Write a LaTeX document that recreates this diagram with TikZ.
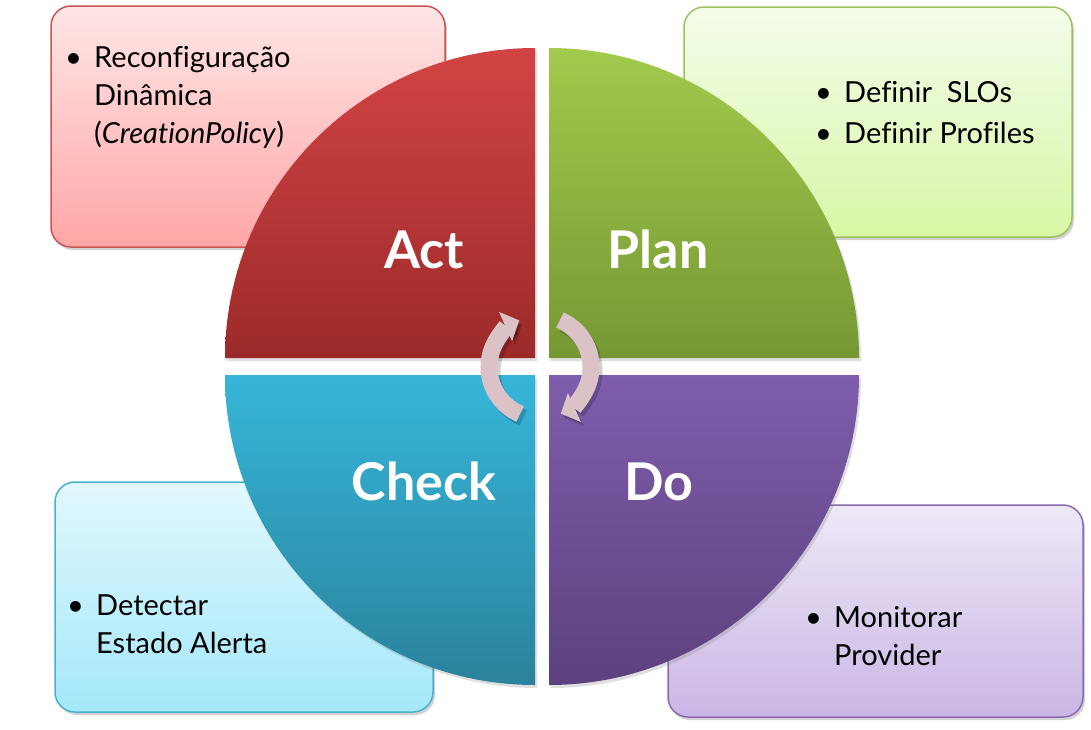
\documentclass[tikz,border=0pt]{standalone}
\usepackage{fontspec}
\setmainfont[Ligatures=NoCommon]{Lato}
\usetikzlibrary{shadows,arrows.meta}
\definecolor{actTop}{HTML}{D24444}
\definecolor{actBot}{HTML}{9C2A2A}
\definecolor{planTop}{HTML}{A2CA4C}
\definecolor{planBot}{HTML}{769834}
\definecolor{checkTop}{HTML}{36B6DA}
\definecolor{checkBot}{HTML}{2B829C}
\definecolor{doTop}{HTML}{7E5DAC}
\definecolor{doBot}{HTML}{5D417E}
\definecolor{actBoxTop}{HTML}{FFE6E6}
\definecolor{actBoxBot}{HTML}{FFA6A6}
\definecolor{actBoxLine}{HTML}{C85555}
\definecolor{planBoxTop}{HTML}{F3FCEA}
\definecolor{planBoxBot}{HTML}{D9F7A6}
\definecolor{planBoxLine}{HTML}{9CC262}
\definecolor{checkBoxTop}{HTML}{E2F8FE}
\definecolor{checkBoxBot}{HTML}{A4E8FA}
\definecolor{checkBoxLine}{HTML}{4BB0CC}
\definecolor{doBoxTop}{HTML}{EFE8F7}
\definecolor{doBoxBot}{HTML}{CAB6E5}
\definecolor{doBoxLine}{HTML}{8B6BAF}
\definecolor{arrowFill}{HTML}{DBC2C7}
\tikzset{
  infobox/.style={rounded corners=20pt, line width=1.5pt,
    drop shadow={shadow xshift=2pt,shadow yshift=-3pt,opacity=0.35}},
  quad/.style={drop shadow={shadow xshift=2pt,shadow yshift=-3pt,opacity=0.25}},
  quadlabel/.style={anchor=base, text=white, font=\fontsize{52}{60}\selectfont\bfseries, inner sep=0pt},
  bullets/.style={anchor=base west, inner sep=0pt, font=\fontsize{29}{38}\selectfont},
  cyclearrow/.style={line width=17pt, draw=arrowFill, -{Triangle[width=31pt,length=15pt]}},
  cycleshadow/.style={line width=17pt, draw=black, opacity=0.18, -{Triangle[width=31pt,length=15pt]}}
}
\begin{document}
\begin{tikzpicture}[x=1pt,y=-1pt]
\useasboundingbox[fill=white] (0,0) rectangle (1091,729);
% info boxes
\path[infobox, draw=actBoxLine, top color=actBoxTop, bottom color=actBoxBot] (51,6) rectangle (445,247);
\path[infobox, draw=planBoxLine, top color=planBoxTop, bottom color=planBoxBot] (684,7) rectangle (1072,237);
\path[infobox, draw=checkBoxLine, top color=checkBoxTop, bottom color=checkBoxBot] (55,482) rectangle (433,712);
\path[infobox, draw=doBoxLine, top color=doBoxTop, bottom color=doBoxBot] (668,505) rectangle (1083,717);
% quadrants
\path[quad, top color=actTop, bottom color=actBot] (535,358) -- (225,358) arc[start angle=180,end angle=270,radius=310] -- cycle;
\path[quad, top color=planTop, bottom color=planBot] (549,358) -- (549,48) arc[start angle=270,end angle=360,radius=310] -- cycle;
\path[quad, top color=doTop, bottom color=doBot] (549,375) -- (859,375) arc[start angle=0,end angle=90,radius=310] -- cycle;
\path[quad, top color=checkTop, bottom color=checkBot] (535,375) -- (535,685) arc[start angle=90,end angle=180,radius=310] -- cycle;
% cycle arrows
\coordinate (cc) at (540,367);
\coordinate (cs) at (543,371);
\draw[cycleshadow] (cs) ++(113:51) arc[start angle=113,end angle=246,radius=51];
\draw[cycleshadow] (cs) ++(-67:51) arc[start angle=-67,end angle=66,radius=51];
\draw[cyclearrow] (cc) ++(113:51) arc[start angle=113,end angle=246,radius=51];
\draw[cyclearrow] (cc) ++(-67:51) arc[start angle=-67,end angle=66,radius=51];
% quadrant labels
\node[quadlabel] (act) at (424,268) {Act};
\node[quadlabel] (plan) at (658,268) {Plan};
\node[quadlabel] (check) at (424,500) {Check};
\node[quadlabel] (do) at (659,500) {Do};
% box texts
\node[bullets] (acttext) at (65,67) {\begin{tabular}[t]{@{}l@{\hspace{0.42em}}l@{}}\textbullet & Reconfiguração\\ & Dinâmica\\ & (\textit{CreationPolicy})\end{tabular}};
\node[bullets] (plantext) at (815,102) {\begin{tabular}[t]{@{}l@{\hspace{0.42em}}l@{}}\textbullet & Definir\ \ SLOs\\[3pt] \textbullet & Definir Profiles\end{tabular}};
\node[bullets] (checktext) at (67,615) {\begin{tabular}[t]{@{}l@{\hspace{0.42em}}l@{}}\textbullet & Detectar\\ & Estado Alerta\end{tabular}};
\node[bullets] (dotext) at (805,627) {\begin{tabular}[t]{@{}l@{\hspace{0.42em}}l@{}}\textbullet & Monitorar\\ & Provider\end{tabular}};
\end{tikzpicture}
\end{document}
